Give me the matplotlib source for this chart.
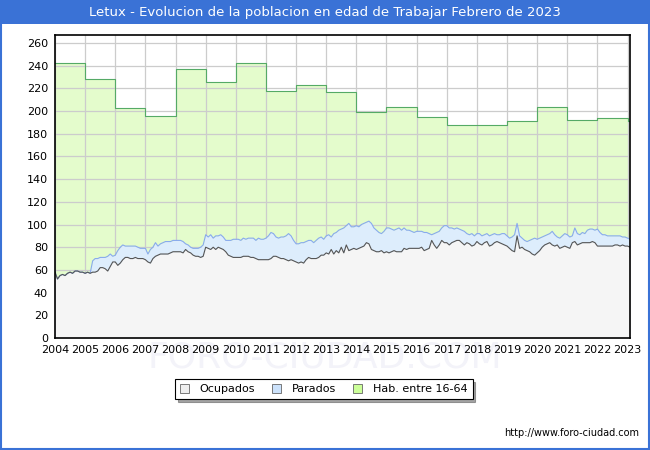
import numpy as np
import matplotlib
matplotlib.use('Agg')
import matplotlib.pyplot as plt
from matplotlib.patches import Patch, Rectangle

# Habitantes 16-64, one value per year (2004..2023)
hab_years = list(range(2004, 2024))
hab = [242, 228, 203, 196, 237, 226, 242, 218, 223, 217,
       199, 204, 195, 188, 188, 191, 204, 192, 194, 191]

# monthly data, Jan 2004 .. Feb 2023
ocupados = [
    58, 52, 55, 56, 55, 57, 58, 57, 59, 59, 58, 58,  # 2004
    57, 58, 57, 58, 58, 59, 62, 62, 61, 59, 63, 67,  # 2005
    67, 64, 66, 69, 71, 71, 70, 70, 71, 70, 70, 70,  # 2006
    69, 67, 66, 70, 72, 73, 74, 74, 74, 74, 75, 76,  # 2007
    76, 76, 76, 75, 78, 76, 75, 73, 72, 72, 71, 72,  # 2008
    80, 79, 78, 80, 78, 80, 79, 78, 76, 73, 72, 71,  # 2009
    71, 71, 71, 72, 72, 72, 71, 71, 70, 69, 69, 69,  # 2010
    69, 69, 70, 72, 72, 71, 70, 70, 69, 68, 69, 68,  # 2011
    67, 66, 67, 66, 69, 71, 70, 70, 70, 71, 73, 73,  # 2012
    75, 74, 78, 74, 77, 75, 80, 75, 82, 77, 78, 79,  # 2013
    78, 79, 80, 81, 84, 83, 78, 77, 76, 76, 77, 75,  # 2014
    76, 75, 76, 77, 76, 76, 76, 79, 78, 79, 79, 79,  # 2015
    79, 79, 80, 77, 78, 79, 86, 82, 79, 82, 86, 84,  # 2016
    84, 82, 84, 85, 86, 86, 84, 82, 84, 83, 81, 82,  # 2017
    85, 83, 82, 84, 85, 81, 82, 84, 85, 84, 83, 82,  # 2018
    81, 79, 77, 76, 90, 79, 80, 78, 77, 76, 74, 73,  # 2019
    75, 77, 80, 82, 83, 84, 82, 81, 82, 79, 80, 81,  # 2020
    80, 79, 84, 85, 82, 83, 84, 84, 84, 84, 85, 84,  # 2021
    81, 81, 81, 81, 81, 81, 81, 82, 82, 81, 82, 81,  # 2022
    81, 80,                                          # 2023
]

# ocupados + parados
activos = [
    58, 52, 55, 56, 55, 57, 58, 57, 59, 59, 58, 58,  # 2004
    57, 58, 57, 68, 70, 70, 71, 71, 71, 72, 74, 72,  # 2005
    73, 77, 80, 82, 81, 81, 81, 81, 81, 80, 79, 79,  # 2006
    79, 74, 78, 80, 84, 81, 83, 84, 85, 85, 85, 86,  # 2007
    86, 86, 86, 85, 83, 82, 80, 79, 79, 79, 80, 82,  # 2008
    91, 89, 91, 88, 90, 90, 91, 89, 86, 86, 86, 87,  # 2009
    87, 87, 86, 88, 87, 88, 88, 88, 86, 88, 87, 87,  # 2010
    88, 90, 93, 92, 89, 88, 89, 89, 90, 92, 90, 86,  # 2011
    83, 83, 84, 84, 85, 86, 86, 84, 86, 88, 89, 87,  # 2012
    90, 91, 89, 92, 93, 95, 96, 97, 99, 101, 98, 98,  # 2013
    99, 98, 100, 101, 102, 103, 101, 97, 95, 93, 92, 94,  # 2014
    97, 97, 96, 95, 96, 97, 95, 97, 95, 95, 94, 93,  # 2015
    94, 94, 94, 93, 93, 92, 91, 92, 93, 94, 97, 99,  # 2016
    99, 97, 97, 96, 97, 96, 95, 94, 92, 91, 92, 90,  # 2017
    92, 92, 90, 91, 92, 90, 91, 92, 91, 91, 92, 92,  # 2018
    90, 88, 89, 91, 101, 90, 88, 86, 85, 86, 87, 88,  # 2019
    87, 88, 89, 90, 91, 92, 94, 91, 89, 88, 90, 92,  # 2020
    91, 89, 90, 97, 92, 91, 93, 92, 95, 96, 96, 95,  # 2021
    96, 93, 91, 91, 90, 90, 90, 90, 90, 90, 89, 89,  # 2022
    88, 87,                                          # 2023
]

t = 2004 + np.arange(len(ocupados)) / 12.0
x_end = t[-1]

hx = hab_years + [x_end]
hy = hab + [hab[-1]]

fig = plt.figure(figsize=(6.5, 4.5), dpi=100)
fig.patch.set_facecolor('white')

# title banner and frame
fig.add_artist(Rectangle((0, 0.947), 1, 0.053, transform=fig.transFigure,
                         facecolor='#3a72d6', edgecolor='none', zorder=0))
fig.add_artist(Rectangle((0.001, 0.002), 0.997, 0.996, transform=fig.transFigure,
                         facecolor='none', edgecolor='#3a72d6', lw=1.5, zorder=10))
fig.text(0.5, 0.973, 'Letux - Evolucion de la poblacion en edad de Trabajar Febrero de 2023',
         ha='center', va='center', color='white', fontsize=9.5)

# faint watermark behind the axes
fig.text(0.5, 0.205, 'FORO-CIUDAD.COM', ha='center', va='center',
         fontsize=26, color='#f3f3f9', zorder=-1)

ax = fig.add_axes([0.0846, 0.249, 0.8846, 0.673])
ax.patch.set_alpha(0)
ax.fill_between(hx, 0, hy, step='post', color='#e4fccc', lw=0, zorder=1)
ax.step(hx, hy, where='post', color='#55aa66', lw=0.8, zorder=4)
ax.fill_between(t, 0, activos, color='#ddedfc', lw=0, zorder=2)
ax.fill_between(t, 0, ocupados, color='#f5f5f5', lw=0, zorder=3)
ax.plot(t, activos, color='#88aaee', lw=0.8, zorder=5)
ax.plot(t, ocupados, color='#555555', lw=0.8, zorder=6)

ax.set_xlim(2004, 2023.08)
ax.set_ylim(0, 267)
ax.set_xticks(range(2004, 2024))
ax.set_yticks(range(0, 261, 20))
ax.tick_params(labelsize=8, length=0, pad=5)
ax.grid(True, color='#cccccc', lw=0.9)
for gl in ax.get_xgridlines() + ax.get_ygridlines():
    gl.set_zorder(3.5)
for s in ax.spines.values():
    s.set_linewidth(1.2)
    s.set_zorder(8)

handles = [Patch(facecolor='#eeeeee', edgecolor='#666666', lw=0.6),
           Patch(facecolor='#cce2fb', edgecolor='#666666', lw=0.6),
           Patch(facecolor='#ccff99', edgecolor='#666666', lw=0.6)]
leg = fig.legend(handles, ['Ocupados', 'Parados', 'Hab. entre 16-64'],
                 loc='center', bbox_to_anchor=(0.498, 0.135), ncol=3,
                 fontsize=8, frameon=True, fancybox=False, shadow=True,
                 edgecolor='black', handlelength=0.8, handleheight=0.8,
                 handletextpad=1.0, columnspacing=1.5, borderpad=0.45)
leg.get_frame().set_linewidth(0.8)

fig.text(0.984, 0.037, 'http://www.foro-ciudad.com', ha='right', va='center', fontsize=7)

fig.savefig('out.png', dpi=100)
